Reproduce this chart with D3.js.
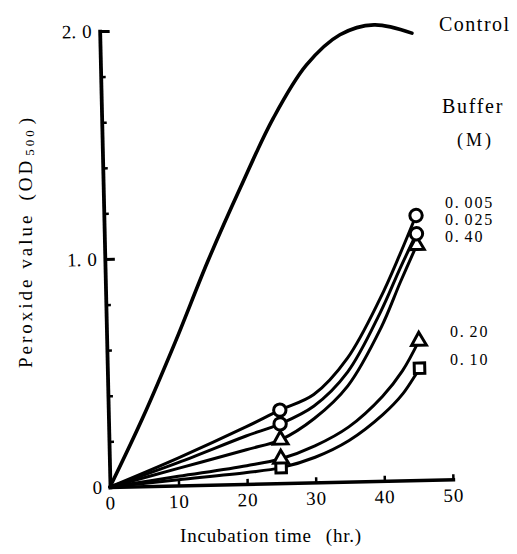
<!DOCTYPE html>
<html>
<head>
<meta charset="utf-8">
<script src="https://cdn.jsdelivr.net/npm/d3@7"></script>
<style>
  html, body { margin: 0; padding: 0; background: #fff; }
  svg { display: block; }
  svg text { font-family: "Liberation Serif", "DejaVu Serif", "Noto Serif", "Tinos", "Times New Roman", Times, "FreeSerif", serif !important; fill: #000; }
</style>
</head>
<body>
<script>
// Axis ticks
const xTicks = [0, 10, 20, 30, 40, 50];
const yTicks = [0, 1, 2];
const yMinorTicks = [0.2, 0.4, 0.6, 0.8, 1.2, 1.4, 1.6, 1.8];

// Control (no buffer), peroxide value OD500 vs incubation time (hr.)
const controlHours = [0, 5, 10, 15, 20, 25, 30, 35, 40, 45.5];
const controlValues = [0, 0.30, 0.63, 0.98, 1.30, 1.60, 1.83, 1.96, 2.00, 1.96];

// Buffer series, sampled along each curve
const bufferHours = [0, 10, 20, 25, 30, 35, 40, 43, 45.5];
const markerHours = [25, 45.5];
const buffer0005 = [0, 0.12, 0.25, 0.32, 0.385, 0.54, 0.80, 0.99, 1.16];
const buffer0025 = [0, 0.10, 0.21, 0.26, 0.335, 0.48, 0.74, 0.93, 1.08];
const buffer040  = [0, 0.075, 0.15, 0.19, 0.28, 0.42, 0.67, 0.87, 1.03];
const buffer020  = [0, 0.04, 0.08, 0.107, 0.16, 0.24, 0.37, 0.48, 0.61];
const buffer010  = [0, 0.025, 0.05, 0.068, 0.11, 0.18, 0.29, 0.38, 0.49];

const bufferLabels = ["0.10", "0.20", "0.40", "0.025", "0.005"];
const bufferSeries = [buffer010, buffer020, buffer040, buffer0025, buffer0005];
const bufferSymbols = [d3.symbolSquare, d3.symbolTriangle, d3.symbolTriangle, d3.symbolCircle, d3.symbolCircle];

const FONT = "'Liberation Serif', 'DejaVu Serif', 'Noto Serif', Tinos, 'Times New Roman', Times, FreeSerif, serif";
const W = 517, H = 554;
const svg = d3.select("body").append("svg").attr("width", W).attr("height", H)
  .attr("font-family", FONT);
svg.append("rect").attr("width", W).attr("height", H).attr("fill", "#fff");

const x = d3.scaleLinear().domain([0, 50]).range([110, 453]);
const y = d3.scaleLinear().domain([0, 2]).range([487, 31]);

// The whole plotting frame sits slightly tilted
const plot = svg.append("g").attr("transform", "rotate(-1.3,110,487)");

// x axis
const gx = plot.append("g").attr("transform", `translate(0,${y(0)})`)
  .call(d3.axisBottom(x).tickValues(xTicks).tickSize(-5).tickSizeOuter(0).tickPadding(9));
gx.attr("font-family", FONT);
gx.select(".domain").attr("stroke-width", 3.5).attr("stroke-linecap", "square");
gx.selectAll(".tick line").attr("stroke-width", 2.5);
gx.selectAll(".tick text").attr("font-size", 19).attr("letter-spacing", 1).attr("fill", "#000");

// y axis: minor ticks
const gyMinor = plot.append("g").attr("transform", `translate(${x(0)},0)`)
  .call(d3.axisLeft(y).tickValues(yMinorTicks).tickSize(-5).tickFormat(() => ""));
gyMinor.select(".domain").remove();
gyMinor.selectAll(".tick line").attr("stroke-width", 2.5);

// y axis: major ticks and labels
const gy = plot.append("g").attr("transform", `translate(${x(0)},0)`)
  .call(d3.axisLeft(y).tickValues(yTicks).tickSize(-10).tickSizeOuter(0).tickPadding(8)
    .tickFormat(d => d === 0 ? "0" : d.toFixed(1)));
gy.attr("font-family", FONT);
gy.select(".domain").attr("stroke-width", 3.8).attr("stroke-linecap", "square");
gy.selectAll(".tick line").attr("stroke-width", 3);
gy.selectAll(".tick text").each(function() {
  const t = d3.select(this);
  const s = t.text();
  t.attr("font-size", 19).attr("fill", "#000");
  if (s.includes(".")) {
    const [a, b] = s.split(".");
    t.text(null);
    t.append("tspan").text(a + ".");
    t.append("tspan").attr("dx", 6).text(b);
  }
});

// Curves
const line = d3.line().x(d => x(d[0])).y(d => y(d[1])).curve(d3.curveCatmullRom.alpha(0.5));

plot.append("path")
  .datum(controlHours.map((h, i) => [h, controlValues[i]]))
  .attr("d", line).attr("fill", "none").attr("stroke", "#000")
  .attr("stroke-width", 3.6).attr("stroke-linecap", "round");

bufferSeries.forEach(vals => {
  plot.append("path")
    .datum(bufferHours.map((h, i) => [h, vals[i]]))
    .attr("d", line).attr("fill", "none").attr("stroke", "#000")
    .attr("stroke-width", 3).attr("stroke-linecap", "round");
});

// Markers (drawn bottom series first so upper markers sit on top)
const symbolSize = new Map([[d3.symbolSquare, 110], [d3.symbolTriangle, 95], [d3.symbolCircle, 120]]);
bufferSeries.forEach((vals, si) => {
  const sym = bufferSymbols[si];
  markerHours.forEach(h => {
    const v = vals[bufferHours.indexOf(h)];
    plot.append("path")
      .attr("d", d3.symbol(sym, symbolSize.get(sym))())
      .attr("transform", `translate(${x(h)},${y(v)})`)
      .attr("fill", "#fff").attr("stroke", "#000").attr("stroke-width", 3);
  });
});

// Series labels on the right
function numLabel(txt, px, py) {
  const [a, b] = txt.split(".");
  const t = svg.append("text").attr("x", px).attr("y", py)
    .attr("font-size", 16).attr("letter-spacing", 1.8);
  t.append("tspan").text(a + ".");
  t.append("tspan").attr("dx", 4).text(b);
}
svg.append("text").attr("x", 439).attr("y", 31).attr("font-size", 20)
  .attr("letter-spacing", 1.5).text("Control");
svg.append("text").attr("x", 442).attr("y", 113).attr("font-size", 20)
  .attr("letter-spacing", 1.7).text("Buffer");
svg.append("text").attr("x", 457).attr("y", 146).attr("font-size", 18)
  .attr("letter-spacing", 3).attr("fill", "#444").text("(M)");

const labelPos = { "0.005": [445, 208], "0.025": [445, 225], "0.40": [445, 242],
                   "0.20": [450, 337], "0.10": [450, 365] };
bufferLabels.forEach(lbl => numLabel(lbl, labelPos[lbl][0], labelPos[lbl][1]));

// Axis titles
const xt = svg.append("text").attr("x", 180).attr("y", 542).attr("font-size", 19)
  .attr("letter-spacing", 0.8);
xt.append("tspan").text("Incubation time");
xt.append("tspan").attr("dx", 14).text("(hr.)");

const yt = svg.append("text").attr("transform", "translate(32,368) rotate(-90)")
  .attr("font-size", 19).attr("letter-spacing", 3);
yt.append("tspan").text("Peroxide value");
yt.append("tspan").attr("dx", 12).text("(OD");
yt.append("tspan").attr("font-size", 13).attr("dx", 2).attr("dy", 2).text("500");
yt.append("tspan").attr("dy", -2).attr("dx", 3).text(")");
</script>
</body>
</html>
